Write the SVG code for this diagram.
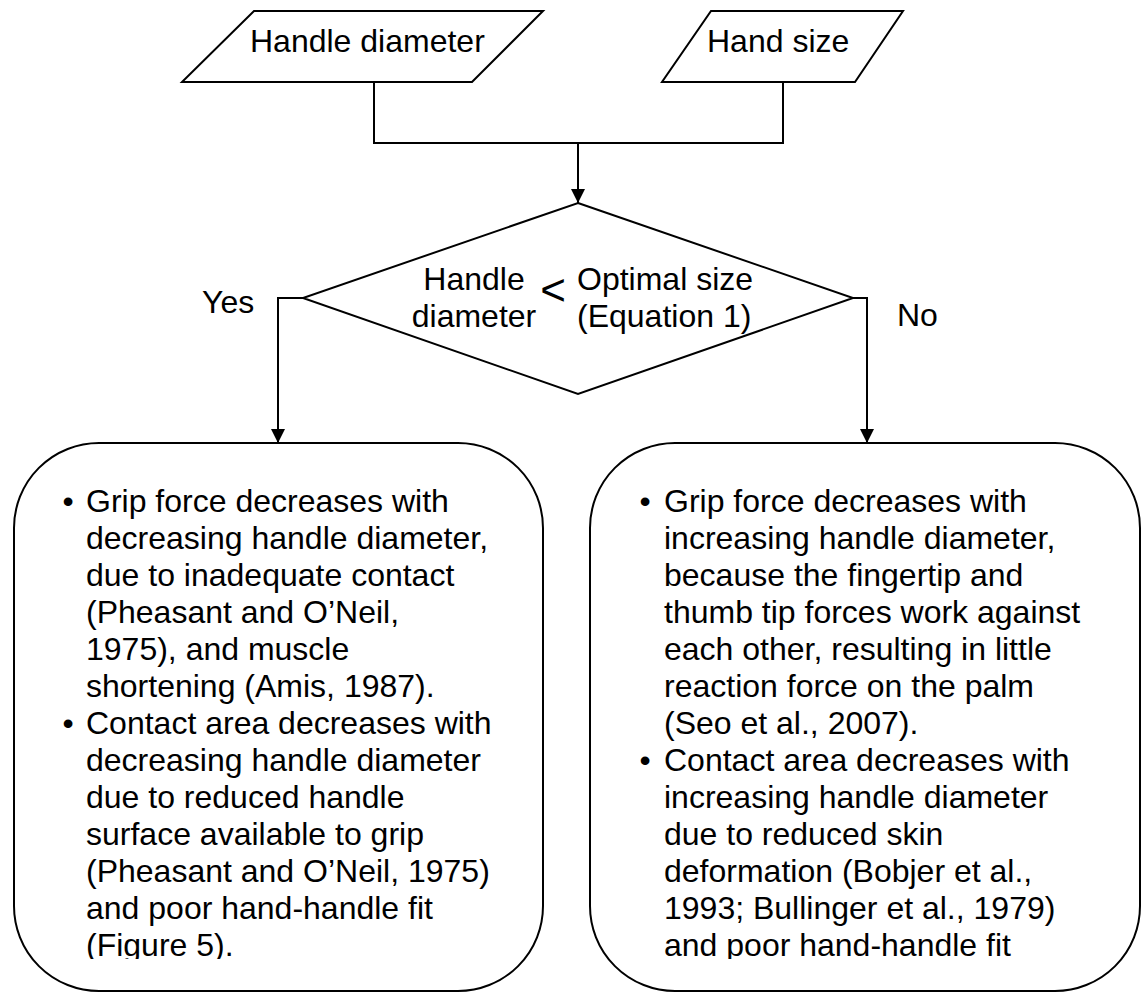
<svg xmlns="http://www.w3.org/2000/svg" width="1142" height="994" viewBox="0 0 1142 994">
<style>
.s{fill:#fff;stroke:#000;stroke-width:2}
.c{fill:none;stroke:#000;stroke-width:2}
text{font-family:"Liberation Sans",Arial,sans-serif;font-size:32px;fill:#000}
</style>
<defs>
<marker id="ah" markerWidth="14" markerHeight="18" refX="14" refY="7" orient="auto" markerUnits="userSpaceOnUse" viewBox="0 0 14 14">
<path d="M0,0 L14,7 L0,14 Z" fill="#000"/>
</marker>
<clipPath id="clip"><rect x="0" y="440" width="1142" height="519"/></clipPath>
</defs>
<rect width="1142" height="994" fill="#fff"/>
<g id="connectors">
<path class="c" d="M374,82 V143 H783 V82"/>
<path class="c" d="M578,143 V203" marker-end="url(#ah)"/>
<path class="c" d="M303,298 H278 V443" marker-end="url(#ah)"/>
<path class="c" d="M853,298 H867 V443" marker-end="url(#ah)"/>
</g>
<g id="input-handle-diameter">
<polygon class="s" points="254,11 543,11 472,82 182,82"/>
<text x="250" y="52">Handle diameter</text>
</g>
<g id="input-hand-size">
<polygon class="s" points="711,11 903,11 855,82 662,82"/>
<text x="707" y="52">Hand size</text>
</g>
<g id="decision">
<polygon class="s" points="578,203 853,298 578,394 303,298"/>
<text x="474" y="290" text-anchor="middle">Handle</text>
<text x="474" y="327" text-anchor="middle">diameter</text>
<text x="553" y="305" text-anchor="middle" style="font-size:44px">&lt;</text>
<text x="577" y="290">Optimal size</text>
<text x="577" y="327">(Equation 1)</text>
</g>
<g id="label-yes"><text x="202" y="313">Yes</text></g>
<g id="label-no"><text x="897" y="326">No</text></g>
<g id="box-yes">
<rect class="s" x="14" y="443" width="529" height="548" rx="85" ry="85"/>
<g clip-path="url(#clip)">
<text x="68" y="512" text-anchor="middle">•</text>
<text x="86" y="512">Grip force decreases with</text>
<text x="86" y="549">decreasing handle diameter,</text>
<text x="86" y="586">due to inadequate contact</text>
<text x="86" y="623">(Pheasant and O’Neil,</text>
<text x="86" y="660">1975), and muscle</text>
<text x="86" y="697">shortening (Amis, 1987).</text>
<text x="68" y="734" text-anchor="middle">•</text>
<text x="86" y="734">Contact area decreases with</text>
<text x="86" y="771">decreasing handle diameter</text>
<text x="86" y="808">due to reduced handle</text>
<text x="86" y="845">surface available to grip</text>
<text x="86" y="882">(Pheasant and O’Neil, 1975)</text>
<text x="86" y="919">and poor hand-handle fit</text>
<text x="86" y="956">(Figure 5).</text>
</g>
</g>
<g id="box-no">
<rect class="s" x="590" y="443" width="550" height="548" rx="85" ry="85"/>
<g clip-path="url(#clip)">
<text x="645" y="512" text-anchor="middle">•</text>
<text x="664" y="512">Grip force decreases with</text>
<text x="664" y="549">increasing handle diameter,</text>
<text x="664" y="586">because the fingertip and</text>
<text x="664" y="623">thumb tip forces work against</text>
<text x="664" y="660">each other, resulting in little</text>
<text x="664" y="697">reaction force on the palm</text>
<text x="664" y="734">(Seo et al., 2007).</text>
<text x="645" y="771" text-anchor="middle">•</text>
<text x="664" y="771">Contact area decreases with</text>
<text x="664" y="808">increasing handle diameter</text>
<text x="664" y="845">due to reduced skin</text>
<text x="664" y="882">deformation (Bobjer et al.,</text>
<text x="664" y="919">1993; Bullinger et al., 1979)</text>
<text x="664" y="956">and poor hand-handle fit</text>
</g>
</g>
</svg>
